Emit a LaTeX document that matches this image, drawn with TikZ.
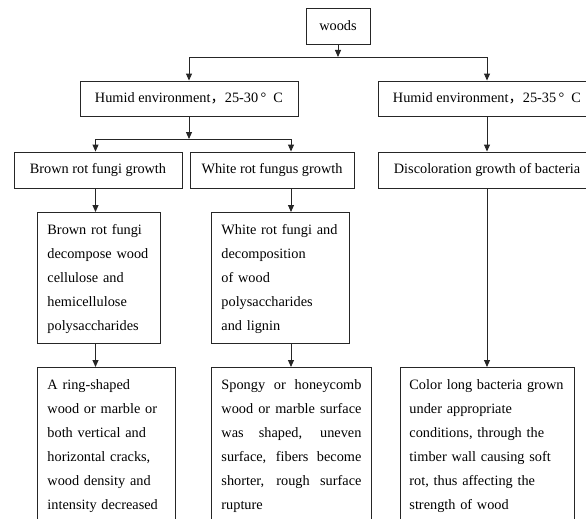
\documentclass[tikz,border=0pt]{standalone}
\usepackage{fontspec}
\setmainfont{Liberation Serif}
\newfontfamily\cjk{Noto Sans CJK SC}
\usetikzlibrary{arrows.meta}

\begin{document}
\begin{tikzpicture}[
  x=1pt, y=-1pt,
  every node/.style={font=\fontsize{14.3}{24}\selectfont},
  stage/.style={draw=black!85, line width=0.9pt, inner sep=0pt},
  note/.style={stage, anchor=north west, inner xsep=10pt, inner ysep=9pt,
    text height=13pt, align=left},
  flow/.style={draw=black!85, line width=0.9pt, -{Triangle[length=7pt,width=6pt]}}
]
\clip (0,0) rectangle (586,519);
% columns of the arrows
\coordinate (colB) at (95.5,0);
\coordinate (colW) at (291,0);
\coordinate (splitA) at (338,57);
\coordinate (splitB) at (189,139);

\node[stage, minimum width=64pt, minimum height=36pt] (woods) at (338,26) {woods};
\node[stage, minimum width=218pt, minimum height=35pt] (humidL) at (189,98.5)
  {Humid environment{\cjk ，}25-30\,°\enspace C};
\node[stage, minimum width=218pt, minimum height=35pt] (humidR) at (487,98.5)
  {Humid environment{\cjk ，}25-35\,°\enspace C};
\node[stage, minimum width=168pt, minimum height=36pt] (brownG) at (98,170) {Brown rot fungi growth};
\node[stage, minimum width=164pt, minimum height=36pt] (whiteG) at (272,170) {White rot fungus growth};
\node[stage, minimum width=218pt, minimum height=36pt] (discol) at (487,170) {Discoloration growth of bacteria};

\node[note, text width=103pt, text depth=100pt] (brownD) at (37,212)
  {Brown rot fungi\\decompose wood\\cellulose and\\hemicellulose\\polysaccharides};
\node[note, text width=118pt, text depth=100pt] (whiteD) at (211,212)
  {White rot fungi and\\decomposition\\of wood\\polysaccharides\\and lignin};

\node[note, text width=118pt, text depth=170pt] (brownE) at (37,367)
  {A ring-shaped\\wood or marble or\\both vertical and\\horizontal cracks,\\wood density and\\intensity decreased};
\node[note, text width=140pt, text depth=170pt, align=justify] (whiteE) at (211,367)
  {Spongy or honeycomb\linebreak wood or marble surface\linebreak was shaped, uneven\linebreak
   surface, fibers become\linebreak shorter, rough surface\linebreak rupture};
\node[note, inner xsep=9pt, text width=156pt, text depth=170pt] (bactE) at (400,367)
  {Color long bacteria grown\\under appropriate\\conditions, through the\\timber wall causing soft\\rot, thus affecting the\\strength of wood};

% connectors
\draw[flow] (woods) -- (splitA);
\draw[flow] (splitA) -| (humidL.north);
\draw[flow] (splitA) -| (humidR.north);
\draw[flow] (humidL) -- (splitB);
\draw[flow] (splitB) -| (brownG.north -| colB);
\draw[flow] (splitB) -| (whiteG.north -| colW);
\draw[flow] (humidR) -- (discol);
\draw[flow] (brownG.south -| colB) -- (brownD.north -| colB);
\draw[flow] (whiteG.south -| colW) -- (whiteD.north -| colW);
\draw[flow] (brownD.south -| colB) -- (brownE.north -| colB);
\draw[flow] (whiteD.south -| colW) -- (whiteE.north -| colW);
\draw[flow] (discol) -- (bactE.north -| discol);
\end{tikzpicture}
\end{document}
